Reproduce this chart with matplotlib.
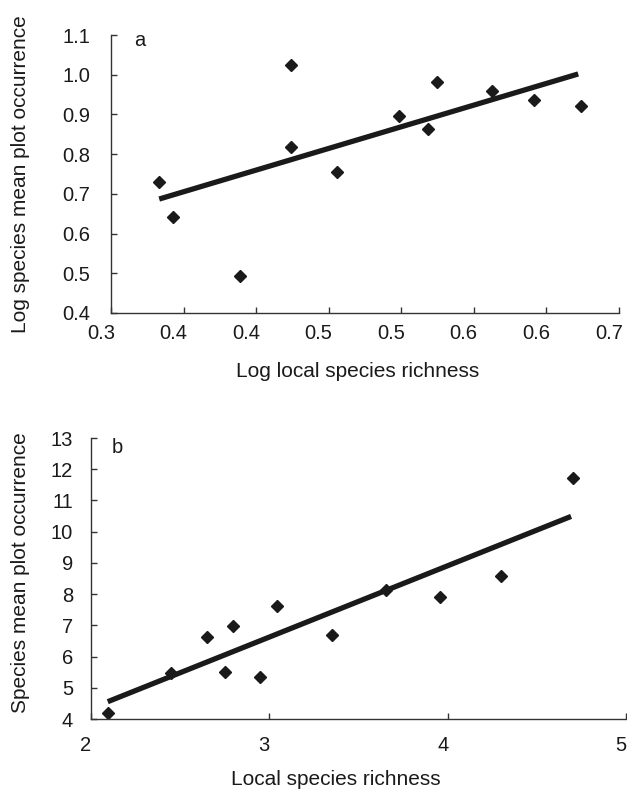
import numpy as np
import matplotlib
matplotlib.use("Agg")
import matplotlib.pyplot as plt
from matplotlib.transforms import ScaledTranslation

plt.rcParams["font.family"] = ["Liberation Sans", "DejaVu Sans"]

# Panel a: log-log data
log_richness = [0.338, 0.349, 0.402, 0.442, 0.442, 0.478, 0.527, 0.550, 0.557, 0.600, 0.633, 0.670]
log_occurrence = [0.730, 0.641, 0.494, 1.025, 0.819, 0.756, 0.896, 0.863, 0.981, 0.959, 0.937, 0.922]
fit_a_x = [0.338, 0.668]
fit_a_y = [0.687, 1.002]

# Panel b: raw data
richness = [2.097, 2.450, 2.648, 2.753, 2.796, 2.949, 3.043, 3.354, 3.653, 3.956, 4.298, 4.703]
occurrence = [4.19, 5.47, 6.63, 5.51, 6.99, 5.36, 7.61, 6.69, 8.12, 7.90, 8.59, 11.72]
fit_b_x = [2.094, 4.692]
fit_b_y = [4.555, 10.49]

fig = plt.figure(figsize=(6.27, 7.89), dpi=100)
ax_a = fig.add_axes([0.177, 0.6033, 0.810, 0.3523])
ax_b = fig.add_axes([0.1451, 0.0887, 0.8533, 0.3561])

ink = "#1a1a1a"
fs = 14.5
lfs = 15


def style(ax, xpad, ypad, xshift):
    for side in ["top", "right"]:
        ax.spines[side].set_visible(False)
    for side in ["left", "bottom"]:
        ax.spines[side].set_color("#333333")
        ax.spines[side].set_linewidth(1.0)
    ax.tick_params(axis="both", direction="in", length=4, width=1.0,
                   color="#333333", labelsize=fs, labelcolor=ink)
    ax.tick_params(axis="x", pad=xpad)
    ax.tick_params(axis="y", pad=ypad)
    off = ScaledTranslation(xshift / 100, 0, fig.dpi_scale_trans)
    for lab in ax.get_xticklabels():
        lab.set_transform(lab.get_transform() + off)


# ---- panel a ----
ax_a.plot(fit_a_x, fit_a_y, color=ink, lw=3.8, solid_capstyle="butt")
ax_a.plot(log_richness, log_occurrence, "D", color=ink, markersize=6.5, ls="none")
ax_a.set_xlim(0.3, 0.7)
ax_a.set_ylim(0.4, 1.1)
xt = np.linspace(0.3, 0.7, 8)
ax_a.set_xticks(xt)
ax_a.set_xticklabels([f"{v:.1f}" for v in xt])
yt = np.arange(0.4, 1.11, 0.1)
ax_a.set_yticks(yt)
ax_a.set_yticklabels([f"{v:.1f}" for v in yt])
style(ax_a, 8, 15, -10)
ax_a.set_xlabel("Log local species richness", fontsize=lfs, color=ink)
ax_a.set_ylabel("Log species mean plot occurrence", fontsize=lfs, color=ink)
ax_a.xaxis.set_label_coords(0.485, -0.176)
ax_a.yaxis.set_label_coords(-0.159, 0.5)
ax_a.text(0.057, 0.982, "a", transform=ax_a.transAxes, fontsize=fs,
          color=ink, ha="center", va="center")

# ---- panel b ----
ax_b.plot(fit_b_x, fit_b_y, color=ink, lw=3.8, solid_capstyle="butt")
ax_b.plot(richness, occurrence, "D", color=ink, markersize=6.5, ls="none")
ax_b.set_xlim(2, 5)
ax_b.set_ylim(4, 13)
ax_b.set_xticks([2, 3, 4, 5])
ax_b.set_yticks(range(4, 14))
style(ax_b, 12, 13, -5)
ax_b.set_xlabel("Local species richness", fontsize=lfs, color=ink)
ax_b.set_ylabel("Species mean plot occurrence", fontsize=lfs, color=ink)
ax_b.xaxis.set_label_coords(0.458, -0.18)
ax_b.yaxis.set_label_coords(-0.114, 0.52)
ax_b.text(0.05, 0.968, "b", transform=ax_b.transAxes, fontsize=fs,
          color=ink, ha="center", va="center")

fig.savefig("out.png", dpi=100)
